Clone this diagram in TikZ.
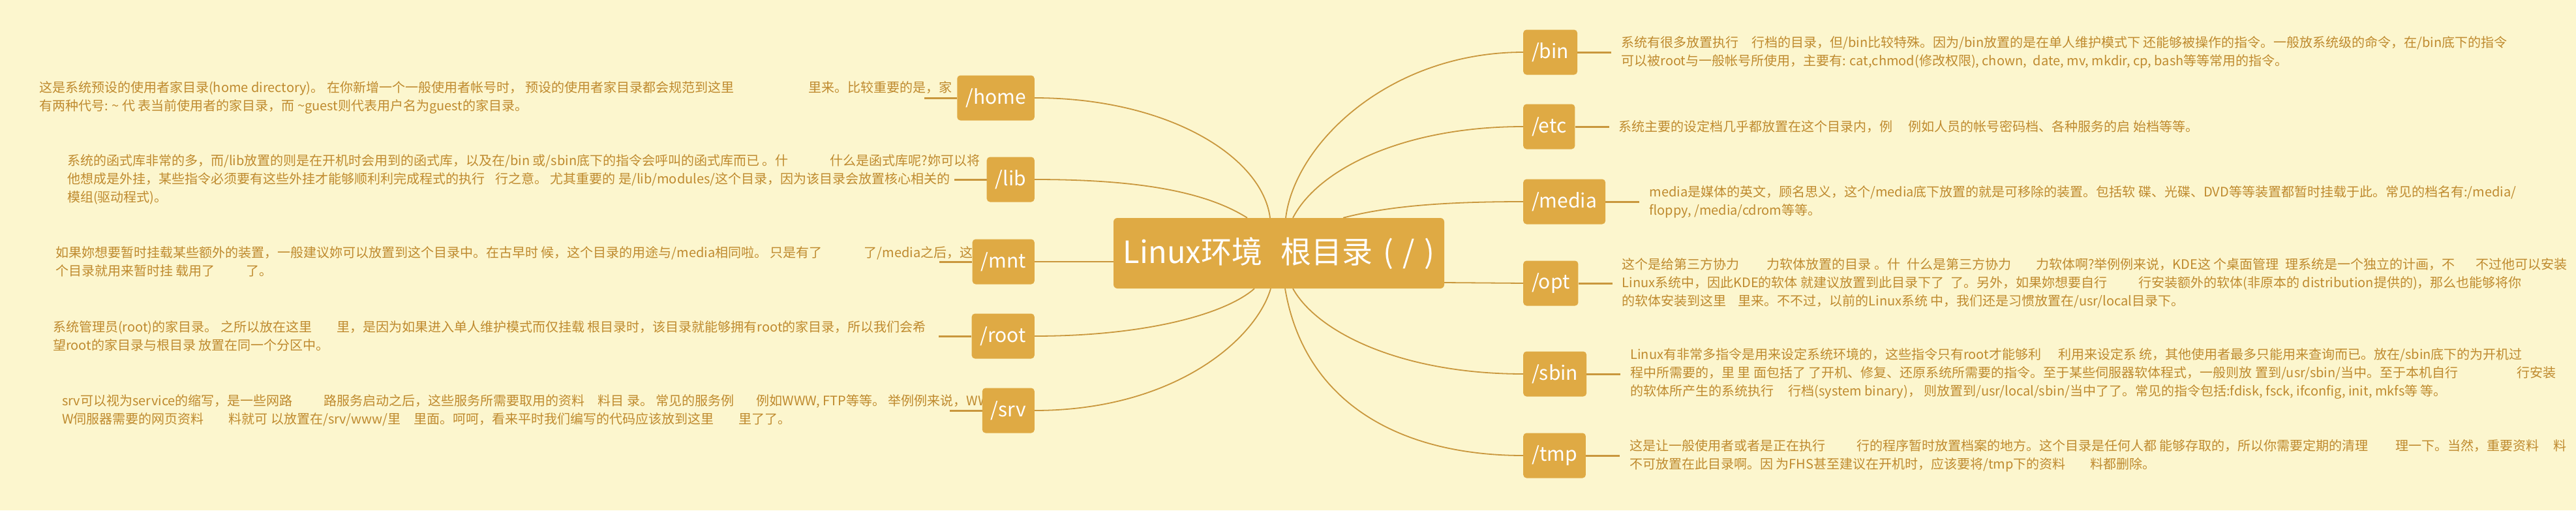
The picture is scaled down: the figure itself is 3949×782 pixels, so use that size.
\documentclass[tikz,border=0pt]{standalone}
\usepackage{fontspec}
\setmainfont{Noto Sans CJK SC}
\definecolor{bg}{HTML}{FCF6CE}
\definecolor{boxc}{HTML}{DFAA44}
\definecolor{linec}{HTML}{C9973D}
\definecolor{txtc}{HTML}{BF8A2E}
\newcommand\mmgap[1]{\hspace{#1em}}
\pgfdeclarelayer{back}
\pgfsetlayers{back,main}
\tikzset{
  dirbox/.style={fill=boxc, rounded corners=5pt, minimum height=69pt, inner xsep=13pt, inner ysep=0pt, text=white, font=\fontsize{30}{30}\selectfont},
  rootbox/.style={fill=boxc, rounded corners=6pt, minimum width=507pt, minimum height=108pt, inner sep=0pt, text=white, font=\fontsize{47}{47}\selectfont},
  notetext/.style={anchor=west, inner sep=0pt, align=left, text=txtc, font=\fontsize{20}{28}\selectfont},
  conn/.style={draw=linec, line width=1.8pt},
  stub/.style={draw=linec, line width=3pt}
}
\begin{document}
\begin{tikzpicture}[x=1pt,y=-1pt]
\useasboundingbox (0,0) rectangle (3949,782);
\begin{pgfonlayer}{back}
\fill[bg] (0,0) rectangle (3949,782);
\end{pgfonlayer}

% boxes
\node[rootbox] (ctr) at (1960.5,388) {Linux环境\hspace{0.6em}根目录\hspace{0.35em}(\hspace{0.3em}/\hspace{0.3em})};
\node[dirbox, anchor=east] (home) at (1586,150) {/home};
\node[dirbox, anchor=east] (lib) at (1586,275) {/lib};
\node[dirbox, anchor=east] (mnt) at (1586,401) {/mnt};
\node[dirbox, anchor=east] (root) at (1586,515) {/root};
\node[dirbox, anchor=east] (srv) at (1586,629) {/srv};
\node[dirbox, anchor=west] (bin) at (2335,80) {/bin};
\node[dirbox, anchor=west] (etc) at (2335,194) {/etc};
\node[dirbox, anchor=west] (media) at (2335,309) {/media};
\node[dirbox, anchor=west] (opt) at (2335,434) {/opt};
\node[dirbox, anchor=west] (sbin) at (2335,573) {/sbin};
\node[dirbox, anchor=west] (tmp) at (2335,698) {/tmp};

\begin{pgfonlayer}{back}
% connectors
\draw[conn] (home.east) .. controls +(204,0) and +(-12,-94) .. ([xshift=-13.5pt]ctr.north);
\draw[conn] (lib.east) .. controls +(164,0) and +(-62,-39) .. ([xshift=-48.5pt]ctr.north);
\draw[conn] (mnt.east) -- (mnt.east -| ctr.west);
\draw[conn] (root.east) .. controls +(174,0) and +(-43,38) .. ([xshift=-37.5pt]ctr.south);
\draw[conn] (srv.east) .. controls +(214,0) and +(-23,78) .. ([xshift=-12.5pt]ctr.south);
\draw[conn] (bin.west) .. controls +(-205,0) and +(14,-114) .. ([xshift=10.5pt]ctr.north);
\draw[conn] (etc.west) .. controls +(-185,0) and +(38,-74) .. ([xshift=21.5pt]ctr.north);
\draw[conn] (media.west) .. controls +(-135,0) and +(61,-16) .. ([xshift=98.5pt]ctr.north);
\draw[conn] (opt.west) -- ([yshift=-45pt]ctr.east);
\draw[conn] (sbin.west) .. controls +(-185,0) and +(38,68) .. ([xshift=21.5pt]ctr.south);
\draw[conn] (tmp.west) .. controls +(-185,0) and +(30,178) .. ([xshift=9.5pt]ctr.south);

% texts
\node[notetext] (thome) at (60,150) {这是系统预设的使用者家目录(home directory)。 在你新增一个一般使用者帐号时， 预设的使用者家目录都会规范到这里\mmgap{5.7}里来。比较重要的是，家\\
有两种代号: \textasciitilde{} 代 表当前使用者的家目录，而 \textasciitilde guest则代表用户名为guest的家目录。};
\node[notetext] (tlib) at (103,275) {系统的函式库非常的多，而/lib放置的则是在开机时会用到的函式库，以及在/bin 或/sbin底下的指令会呼叫的函式库而已 。什\mmgap{3.2}什么是函式库呢?妳可以将\\
他想成是外挂，某些指令必须要有这些外挂才能够顺利利完成程式的执行\mmgap{0.8}行之意。 尤其重要的 是/lib/modules/这个目录，因为该目录会放置核心相关的\\
模组(驱动程式)。};
\node[notetext] (tmnt) at (85,401) {如果妳想要暂时挂载某些额外的装置，一般建议妳可以放置到这个目录中。在古早时 候，这个目录的用途与/media相同啦。 只是有了\mmgap{3.2}了/media之后，这\\
个目录就用来暂时挂 载用了\mmgap{2.4}了。};
\node[notetext] (troot) at (81,515) {系统管理员(root)的家目录。 之所以放在这里\mmgap{1.9}里，是因为如果进入单人维护模式而仅挂载 根目录时，该目录就能够拥有root的家目录，所以我们会希\\
望root的家目录与根目录 放置在同一个分区中。};
\node[notetext] (tsrv) at (95,629) {srv可以视为service的缩写，是一些网路\mmgap{2.4}路服务启动之后，这些服务所需要取用的资料\mmgap{1}料目 录。 常见的服务例\mmgap{1.7}例如WWW, FTP等等。 举例例来说，WW\\
W伺服器需要的网页资料\mmgap{1.9}料就可 以放置在/srv/www/里\mmgap{1}里面。呵呵，看来平时我们编写的代码应该放到这里\mmgap{1.9}里了了。};

\node[notetext] (tbin) at ([xshift=67pt]bin.east) {系统有很多放置执行\mmgap{1}行档的目录，但/bin比较特殊。因为/bin放置的是在单人维护模式下 还能够被操作的指令。一般放系统级的命令，在/bin底下的指令\\
可以被root与一般帐号所使用，主要有: cat,chmod(修改权限), chown,\mmgap{0.5}date, mv, mkdir, cp, bash等等常用的指令。};
\node[notetext] (tetc) at ([xshift=67pt]etc.east) {系统主要的设定档几乎都放置在这个目录内，例\mmgap{1.2}例如人员的帐号密码档、各种服务的启 始档等等。};
\node[notetext] (tmedia) at ([xshift=67pt]media.east) {media是媒体的英文，顾名思义，这个/media底下放置的就是可移除的装置。包括软 碟、光碟、DVD等等装置都暂时挂载于此。常见的档名有:/media/\\
floppy, /media/cdrom等等。};
\node[notetext] (topt) at ([xshift=67pt]opt.east) {这个是给第三方协力\mmgap{2.1}力软体放置的目录 。什\mmgap{0.5}什么是第三方协力\mmgap{1.9}力软体啊?举例例来说，KDE这 个桌面管理\mmgap{0.5}理系统是一个独立的计画，不\mmgap{1.6}不过他可以安装\\
Linux系统中，因此KDE的软体 就建议放置到此目录下了\mmgap{0.5}了。另外，如果妳想要自行\mmgap{2.4}行安装额外的软体(非原本的 distribution提供的)，那么也能够将你\\
的软体安装到这里\mmgap{0.9}里来。不不过，以前的Linux系统 中，我们还是习惯放置在/usr/local目录下。};
\node[notetext] (tsbin) at ([xshift=67pt]sbin.east) {Linux有非常多指令是用来设定系统环境的，这些指令只有root才能够利\mmgap{1.3}利用来设定系 统，其他使用者最多只能用来查询而已。放在/sbin底下的为开机过\\
程中所需要的，里 里 面包括了 了开机、修复、还原系统所需要的指令。至于某些伺服器软体程式，一般则放 置到/usr/sbin/当中。至于本机自行\mmgap{4.5}行安装\\
的软体所产生的系统执行\mmgap{1.1}行档(system binary)， 则放置到/usr/local/sbin/当中了了。常见的指令包括:fdisk, fsck, ifconfig, init, mkfs等 等。};
\node[notetext] (ttmp) at ([xshift=67pt]tmp.east) {这是让一般使用者或者是正在执行\mmgap{2.4}行的程序暂时放置档案的地方。这个目录是任何人都 能够存取的，所以你需要定期的清理\mmgap{2.1}理一下。当然，重要资料\mmgap{1.1}料\\
不可放置在此目录啊。因 为FHS甚至建议在开机时，应该要将/tmp下的资料\mmgap{1.9}料都删除。};

% stubs
\coordinate (shome) at ([xshift=-50pt]home.west);
\coordinate (slib) at ([xshift=-50pt]lib.west);
\coordinate (smnt) at ([xshift=-50pt]mnt.west);
\coordinate (sroot) at ([xshift=-50pt]root.west);
\coordinate (ssrv) at ([xshift=-50pt]srv.west);
\coordinate (sbinE) at ([xshift=52pt]bin.east);
\coordinate (setc) at ([xshift=52pt]etc.east);
\coordinate (smedia) at ([xshift=52pt]media.east);
\coordinate (sopt) at ([xshift=52pt]opt.east);
\coordinate (ssbin) at ([xshift=52pt]sbin.east);
\coordinate (stmp) at ([xshift=52pt]tmp.east);
\draw[stub] (home.west) -- (shome);
\draw[stub] (lib.west) -- (slib);
\draw[stub] (mnt.west) -- (smnt);
\draw[stub] (root.west) -- (sroot);
\draw[stub] (srv.west) -- (ssrv);
\draw[stub] (bin.east) -- (sbinE);
\draw[stub] (etc.east) -- (setc);
\draw[stub] (media.east) -- (smedia);
\draw[stub] (opt.east) -- (sopt);
\draw[stub] (sbin.east) -- (ssbin);
\draw[stub] (tmp.east) -- (stmp);
\end{pgfonlayer}
\end{tikzpicture}
\end{document}
